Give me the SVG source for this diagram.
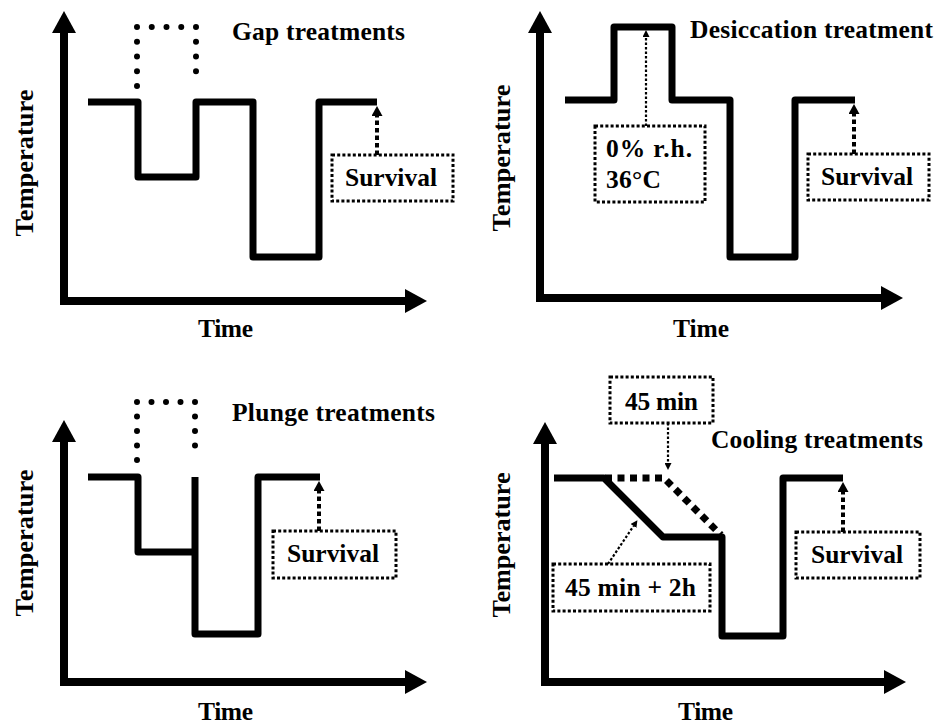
<svg xmlns="http://www.w3.org/2000/svg" width="936" height="727" viewBox="0 0 936 727" font-family="'Liberation Serif', 'Times New Roman', serif" font-weight="bold" font-size="25.5">
<style>
text{fill:#000}
.axis{fill:none;stroke:#000;stroke-width:8;stroke-linejoin:miter}
.curve{fill:none;stroke:#000;stroke-width:7;stroke-linejoin:round}
.rdots{fill:none;stroke:#000;stroke-width:6;stroke-linecap:round}
.box{fill:none;stroke:#000;stroke-width:3;stroke-dasharray:3 2.2}
.dash{fill:none;stroke:#000;stroke-width:4;stroke-dasharray:4.5 3}
.thin{fill:none;stroke:#000;stroke-width:2.2;stroke-dasharray:2.5 2}
.cdash{fill:none;stroke:#000;stroke-width:7;stroke-dasharray:7 5.5}
</style>
<defs>
<marker id="ax" markerUnits="userSpaceOnUse" viewBox="0 0 22 24" markerWidth="22" markerHeight="24" refX="0" refY="12" orient="auto-start-reverse"><path d="M0,0 L22,12 L0,24 Z" fill="#000"/></marker>
<marker id="ah" markerUnits="userSpaceOnUse" viewBox="0 0 10 11" markerWidth="10" markerHeight="11" refX="0" refY="5.5" orient="auto"><path d="M0,0 L10,5.5 L0,11 Z" fill="#000"/></marker>
<marker id="as" markerUnits="userSpaceOnUse" viewBox="0 0 7 7" markerWidth="7" markerHeight="7" refX="0" refY="3.5" orient="auto"><path d="M0,0 L7,3.5 L0,7 Z" fill="#000"/></marker>
</defs>

<!-- Panel 1: Gap treatments -->
<g id="gap-panel">
<path class="axis" d="M64,33 V301 H405" marker-start="url(#ax)" marker-end="url(#ax)"/>
<path class="curve" d="M88,102 H138 V177 H196 V102 H253 V257 H319 V102 H377"/>
<g class="rdots"><path d="M137,86 V27" stroke-dasharray="0 14.75"/><path d="M137,27 H196" stroke-dasharray="0 14.75"/><path d="M196,27 V86" stroke-dasharray="0 14.75"/></g>
<text x="232" y="40" textLength="173" lengthAdjust="spacing">Gap treatments</text>
<text x="198" y="337" textLength="55" lengthAdjust="spacing">Time</text>
<text transform="translate(33,163) rotate(-90)" text-anchor="middle" textLength="147" lengthAdjust="spacingAndGlyphs">Temperature</text>
</g>
<g id="gap-survival">
<rect class="box" x="332" y="155" width="121" height="46"/>
<text x="345" y="186" textLength="92" lengthAdjust="spacing">Survival</text>
</g>

<!-- Panel 2: Desiccation treatment -->
<g id="desiccation-panel">
<path class="axis" d="M540,33 V298 H881" marker-start="url(#ax)" marker-end="url(#ax)"/>
<path class="curve" d="M565,100 H614 V27 H672 V100 H730 V257 H795 V100 H855"/>
<text x="690" y="38" textLength="243" lengthAdjust="spacing">Desiccation treatment</text>
<text x="673" y="337" textLength="56" lengthAdjust="spacing">Time</text>
<text transform="translate(510,158) rotate(-90)" text-anchor="middle" textLength="147" lengthAdjust="spacingAndGlyphs">Temperature</text>
</g>
<g id="desiccation-box">
<rect class="box" x="595" y="126" width="110" height="76"/>
<text x="606" y="157" textLength="86" lengthAdjust="spacing">0% r.h.</text>
<text x="606" y="188" textLength="55" lengthAdjust="spacing">36°C</text>
</g>
<g id="desiccation-survival">
<rect class="box" x="808" y="154" width="121" height="46"/>
<text x="821" y="185" textLength="92" lengthAdjust="spacing">Survival</text>
</g>

<!-- Panel 3: Plunge treatments -->
<g id="plunge-panel">
<path class="axis" d="M64,442 V682 H405" marker-start="url(#ax)" marker-end="url(#ax)"/>
<path class="curve" d="M88,477 H138 V552 H195"/>
<path class="curve" d="M195,477 V634 H258 V477 H320"/>
<g class="rdots"><path d="M137,460 V402" stroke-dasharray="0 14.5"/><path d="M137,402 H195" stroke-dasharray="0 14.5"/><path d="M195,402 V460" stroke-dasharray="0 14.5"/></g>
<text x="232" y="421" textLength="203" lengthAdjust="spacing">Plunge treatments</text>
<text x="198" y="720" textLength="55" lengthAdjust="spacing">Time</text>
<text transform="translate(33,543) rotate(-90)" text-anchor="middle" textLength="147" lengthAdjust="spacingAndGlyphs">Temperature</text>
</g>
<g id="plunge-survival">
<rect class="box" x="273" y="531" width="123" height="47"/>
<text x="287" y="562" textLength="92" lengthAdjust="spacing">Survival</text>
</g>

<!-- Panel 4: Cooling treatments -->
<g id="cooling-panel">
<path class="axis" d="M545,444 V682 H884" marker-start="url(#ax)" marker-end="url(#ax)"/>
<path class="curve" d="M554,478 H604 L663,537 H722 V636 H783 V478 H843"/>
<path class="cdash" d="M605,478 H664 L721,535"/>
<text x="711" y="448" textLength="212" lengthAdjust="spacing">Cooling treatments</text>
<text x="678" y="720" textLength="55" lengthAdjust="spacing">Time</text>
<text transform="translate(510,545) rotate(-90)" text-anchor="middle" textLength="145" lengthAdjust="spacingAndGlyphs">Temperature</text>
</g>
<g id="cooling-45min">
<rect class="box" x="610" y="377" width="103" height="46"/>
<text x="625" y="410" textLength="73" lengthAdjust="spacing">45 min</text>
</g>
<g id="cooling-45min-2h">
<rect class="box" x="553" y="564" width="157" height="47"/>
<text x="565" y="596" textLength="131" lengthAdjust="spacing">45 min + 2h</text>
</g>
<g id="cooling-survival">
<rect class="box" x="796" y="532" width="124" height="46"/>
<text x="811" y="563" textLength="92" lengthAdjust="spacing">Survival</text>
</g>

<!-- Connectors -->
<g id="connectors">
<path class="dash" d="M377,155 V116" marker-end="url(#ah)"/>
<path class="dash" d="M854,154 V114" marker-end="url(#ah)"/>
<path class="dash" d="M319,531 V491" marker-end="url(#ah)"/>
<path class="dash" d="M843,532 V492" marker-end="url(#ah)"/>
<path class="thin" d="M646,126 V37" marker-end="url(#as)"/>
<path class="thin" d="M668,423 V463" marker-end="url(#as)"/>
<path class="thin" d="M608,564 L633.5,526" marker-end="url(#as)"/>
</g>
</svg>
